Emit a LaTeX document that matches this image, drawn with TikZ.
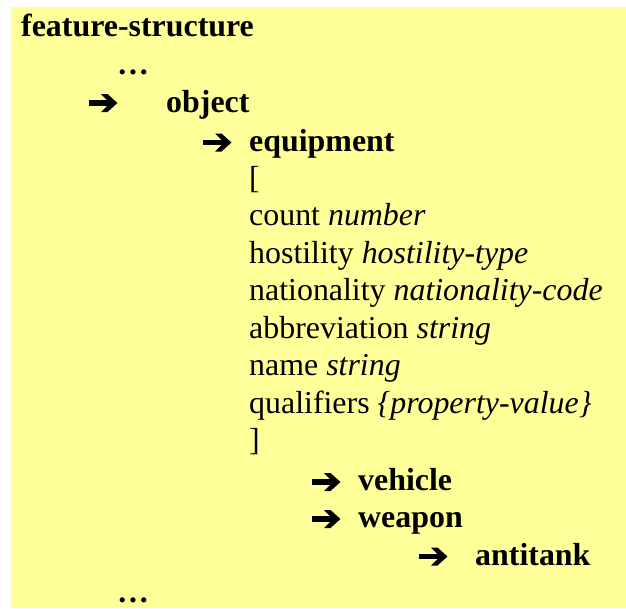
\documentclass[tikz,border=0pt]{standalone}
\usepackage{fontspec}
\setmainfont{Liberation Serif}
\definecolor{bgyellow}{RGB}{255,255,153}
\begin{document}
\begin{tikzpicture}[x=1pt,y=-1pt,
  txt/.style={anchor=base west,inner sep=0pt,font=\fontsize{31.9}{31.9}\selectfont},
  bold/.style={txt,font=\fontsize{31.9}{31.9}\selectfont\bfseries},
  harrow/.pic={
    \fill[black] (0,-11.2) rectangle (22,-5.8);
    \fill[black] (12,-17.5) -- (18.5,-17.5) -- (28.5,-8.5) -- (18.5,0.5) -- (12,0.5) -- (21,-8.5) -- cycle;
  }]
\useasboundingbox (0,0) rectangle (626,608);
\fill[bgyellow] (11,7) rectangle (626,608);
\node[bold] (fs) at (21,36) {feature-structure};
\node[bold] (dots1) at (117,74) {…};
\pic (a1) at (89,111.5) {harrow};
\node[bold] (obj) at (166,112) {object};
\pic (a2) at (203,151) {harrow};
\node[bold] (equip) at (249,151) {equipment};
\node[txt] (lb) at (249,188) {[};
\node[txt] (count) at (249,225.5) {count \textit{number}};
\node[txt] (host) at (249,263) {hostility \textit{hostility-type}};
\node[txt] (nat) at (249,300.5) {nationality \textit{nationality-code}};
\node[txt] (abbr) at (249,338) {abbreviation \textit{string}};
\node[txt] (name) at (249,375.5) {name \textit{string}};
\node[txt] (qual) at (249,413) {qualifiers \textit{\{property-value\}}};
\node[txt] (rb) at (249,450.5) {]};
\pic (a3) at (312,490.5) {harrow};
\node[bold] (veh) at (358,490.5) {vehicle};
\pic (a4) at (312,527.5) {harrow};
\node[bold] (weap) at (358,527.5) {weapon};
\pic (a5) at (419,565) {harrow};
\node[bold] (anti) at (475,565) {antitank};
\node[bold] (dots2) at (117,602.5) {…};
\end{tikzpicture}
\end{document}
